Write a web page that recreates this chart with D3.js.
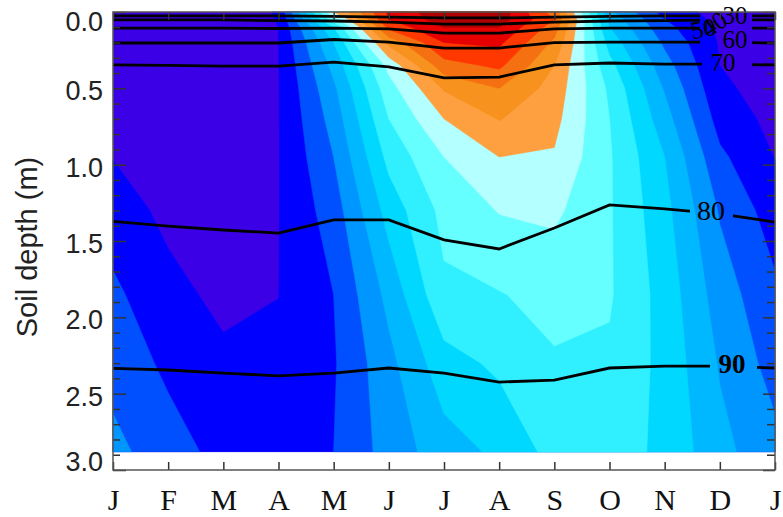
<!DOCTYPE html>
<html>
<head>
<meta charset="utf-8">
<script src="https://cdn.jsdelivr.net/npm/d3@7"></script>
<style>
  html, body { margin: 0; padding: 0; background: #fff; }
  svg { display: block; }
</style>
</head>
<body>
<div id="chart"></div>
<script>
// Month ticks (Jan repeated at the end)
const months = ['J', 'F', 'M', 'A', 'M', 'J', 'J', 'A', 'S', 'O', 'N', 'D', 'J']

// Depth of each row of the gridded field (m)
const depths = [0, 0.05, 0.1, 0.2, 0.35, 0.5, 0.7, 0.95, 1.3, 1.85, 2.3, 2.88]

// Colour band index, one row per depth, one value per month
const field = [
  [0.5, 0.3, 0.3, 1.1, 9.0, 13.2, 14.7, 14.6, 11.5, 4.2, 1.6, 0.6, 0.5],
  [0.5, 0.3, 0.3, 1.05, 7.5, 13.0, 14.5, 14.5, 12.0, 4.7, 2.0, 0.7, 0.5],
  [0.5, 0.3, 0.3, 1.0, 6.0, 12.3, 14.0, 14.0, 11.5, 5.0, 2.3, 0.8, 0.5],
  [0.5, 0.3, 0.3, 0.98, 5.0, 10.3, 13.0, 13.2, 10.8, 5.6, 2.8, 0.9, 0.5],
  [0.5, 0.3, 0.3, 0.97, 4.3, 8.3, 11.6, 12.2, 10.0, 6.3, 3.4, 1.0, 0.5],
  [0.55, 0.3, 0.3, 0.96, 3.8, 7.6, 10.1, 11.0, 9.6, 6.8, 3.9, 1.2, 0.55],
  [0.7, 0.35, 0.3, 0.96, 3.4, 7.0, 9.0, 10.05, 9.3, 7.0, 4.4, 1.6, 0.7],
  [0.97, 0.5, 0.35, 0.96, 3.0, 6.3, 8.0, 9.0, 8.9, 7.1, 5.0, 2.2, 0.97],
  [1.5, 0.75, 0.45, 0.97, 2.5, 5.4, 7.3, 8.05, 8.2, 7.1, 5.3, 2.9, 1.5],
  [2.2, 1.3, 0.75, 0.99, 2.0, 4.3, 6.8, 6.95, 7.3, 7.1, 5.6, 3.5, 2.2],
  [2.6, 1.8, 1.2, 1.15, 1.9, 3.7, 5.6, 6.2, 6.9, 6.85, 5.7, 3.9, 2.6],
  [3.3, 2.4, 1.7, 1.4, 2.0, 3.4, 4.55, 5.2, 6.35, 6.5, 5.76, 4.3, 3.3]
]

// Fill levels and their colours (one more colour than levels)
const levels = [1, 2, 3, 4, 5, 6, 7, 8, 9, 10, 11, 12, 13, 14]
const bandColors = ['#3c00e6', '#0000ff', '#0050ff', '#0096ff', '#00b8ff', '#00d8ff', '#30f0ff',
  '#66ffff', '#b4ffff', '#ffa040', '#f8921e', '#f57010', '#ff3800', '#e60000', '#b00000']

// Black contour lines: depth (m) of each line at each month tick
const lineLevels = ['30', '40', '50', '60', '70', '80', '90']
const line30 = [0.026, 0.026, 0.026, 0.026, 0.029, 0.033, 0.039, 0.039, 0.033, 0.029, 0.026, 0.026, 0.026]
const line40 = [0.052, 0.052, 0.052, 0.056, 0.059, 0.066, 0.079, 0.079, 0.066, 0.059, 0.056, 0.052, 0.052]
const line50 = [0.105, 0.105, 0.105, 0.108, 0.105, 0.111, 0.138, 0.138, 0.111, 0.105, 0.105, 0.105, 0.105]
const line60 = [0.203, 0.203, 0.203, 0.203, 0.180, 0.197, 0.236, 0.236, 0.200, 0.197, 0.197, 0.197, 0.203]
const line70 = [0.347, 0.350, 0.354, 0.354, 0.328, 0.360, 0.432, 0.426, 0.347, 0.334, 0.341, 0.341, 0.347]
const line80 = [1.372, 1.402, 1.428, 1.448, 1.362, 1.362, 1.493, 1.552, 1.415, 1.264, 1.290, 1.323, 1.376]
const line90 = [2.334, 2.345, 2.365, 2.384, 2.365, 2.332, 2.365, 2.424, 2.411, 2.332, 2.319, 2.320, 2.332]

const yTicks = [0, 0.5, 1, 1.5, 2, 2.5, 3]

const width = 783
const height = 517
const plot = { left: 113, right: 775, top: 12, bottom: 470 }

const x = d3.scaleLinear().domain([0, months.length - 1]).range([plot.left, plot.right])
const y = d3.scaleLinear().domain([0, 3]).range([plot.top, plot.bottom])

const svg = d3.select('#chart')
  .append('svg')
  .attr('width', width)
  .attr('height', height)

// Filled field
const nx = months.length
const ny = depths.length
const values = []
field.forEach(row => row.forEach(v => values.push(v)))
const rowDepth = d3.scaleLinear().domain(d3.range(ny)).range(depths)
const cx = v => Math.max(0, Math.min(nx - 1, v - 0.5))
const cy = v => Math.max(0, Math.min(ny - 1, v - 0.5))
const proj = d3.geoTransform({
  point(px, py) { this.stream.point(x(cx(px)), y(rowDepth(cy(py)))) }
})
const path = d3.geoPath(proj)
const bands = d3.contours().size([nx, ny]).thresholds(levels)(values)

const fill = svg.append('g').attr('class', 'fill')
fill.append('rect')
  .attr('x', x(0))
  .attr('y', y(0))
  .attr('width', x(nx - 1) - x(0))
  .attr('height', y(depths[ny - 1]) - y(0))
  .attr('fill', bandColors[0])
fill.selectAll('path')
  .data(bands)
  .join('path')
  .attr('d', path)
  .attr('fill', (d, i) => bandColors[i + 1])
  .attr('stroke', (d, i) => bandColors[i + 1])
  .attr('stroke-width', 0.6)

// Contour lines, each with a gap for its label
const lines = [line30, line40, line50, line60, line70, line80, line90]
const gaps = [[700, 752], [700, 752], [700, 752], [700, 752], [702, 752], [690, 733], [710, 757]]
const defs = svg.append('defs')
gaps.forEach((g, i) => {
  const cp = defs.append('clipPath').attr('id', 'gap' + i)
  cp.append('rect').attr('x', 0).attr('y', 0).attr('width', g[0]).attr('height', height)
  cp.append('rect').attr('x', g[1]).attr('y', 0).attr('width', width - g[1]).attr('height', height)
})
const lineGen = d3.line().x((d, i) => x(i)).y(d => y(d))
svg.append('g')
  .attr('class', 'isolines')
  .selectAll('path')
  .data(lines)
  .join('path')
  .attr('d', lineGen)
  .attr('clip-path', (d, i) => `url(#gap${i})`)
  .attr('fill', 'none')
  .attr('stroke', '#000')
  .attr('stroke-width', 2.8)

// Line labels
const labelPos = [
  { x: 735, y: 24, size: 25, rot: 0 },
  { x: 719, y: 31, size: 25, rot: -35 },
  { x: 705, y: 37, size: 25, rot: -12 },
  { x: 735, y: 48, size: 25, rot: 0 },
  { x: 723, y: 71, size: 25, rot: 0 },
  { x: 711, y: 220, size: 28, rot: 0 },
  { x: 732, y: 373, size: 27, rot: 0 }
]
svg.append('g')
  .attr('class', 'line-labels')
  .selectAll('text')
  .data(lineLevels)
  .join('text')
  .attr('transform', (d, i) => `translate(${labelPos[i].x},${labelPos[i].y}) rotate(${labelPos[i].rot})`)
  .attr('text-anchor', 'middle')
  .style('font-family', '"Liberation Serif", serif')
  .style('font-size', (d, i) => labelPos[i].size + 'px')
  .style('font-weight', (d, i) => i === 6 ? 'bold' : 'normal')
  .attr('fill', '#000')
  .text(d => d)

// Axes
const axisColor = '#333'
const style = g => {
  g.select('.domain').remove()
  g.selectAll('line').attr('stroke', axisColor).attr('stroke-width', 1.5)
}

svg.append('g')
  .attr('transform', `translate(0,${plot.bottom})`)
  .call(d3.axisBottom(x).tickValues(d3.range(nx)).tickFormat(i => months[i]).tickSize(-8))
  .call(style)
  .call(g => g.selectAll('text')
    .attr('y', 40).attr('dy', 0)
    .attr('fill', '#111')
    .style('font-family', '"Liberation Serif", serif')
    .style('font-size', '30px'))

svg.append('g')
  .attr('transform', `translate(0,${plot.top})`)
  .call(d3.axisTop(x).tickValues(d3.range(nx)).tickFormat('').tickSize(-8))
  .call(style)

const minorTicks = d3.range(1, 30).map(v => v / 10).filter(v => Math.abs(v * 2 - Math.round(v * 2)) > 1e-6)

svg.append('g')
  .attr('transform', `translate(${plot.left},0)`)
  .call(d3.axisLeft(y).tickValues(yTicks).tickFormat(d3.format('.1f')).tickSize(-13).tickPadding(10))
  .call(style)
  .call(g => g.selectAll('text')
    .attr('fill', '#222')
    .attr('dy', (d, i) => i === 0 ? '0.68em' : (i === yTicks.length - 1 ? '0.02em' : '0.42em'))
    .style('font-family', '"Liberation Sans", sans-serif')
    .style('font-size', '27px'))
svg.append('g')
  .attr('transform', `translate(${plot.left},0)`)
  .call(d3.axisLeft(y).tickValues(minorTicks).tickFormat('').tickSize(-7))
  .call(style)

svg.append('g')
  .attr('transform', `translate(${plot.right},0)`)
  .call(d3.axisRight(y).tickValues(yTicks).tickFormat('').tickSize(-12))
  .call(style)
svg.append('g')
  .attr('transform', `translate(${plot.right},0)`)
  .call(d3.axisRight(y).tickValues(minorTicks).tickFormat('').tickSize(-8))
  .call(style)

// Frame
svg.append('rect')
  .attr('x', plot.left)
  .attr('y', plot.top)
  .attr('width', plot.right - plot.left)
  .attr('height', plot.bottom - plot.top)
  .attr('fill', 'none')
  .attr('stroke', '#555')
  .attr('stroke-width', 1.5)

// Axis title
svg.append('text')
  .attr('transform', `translate(37,247) rotate(-90)`)
  .attr('text-anchor', 'middle')
  .attr('fill', '#222')
  .style('font-family', '"Liberation Sans", sans-serif')
  .style('font-size', '29px')
  .text('Soil depth (m)')
</script>
</body>
</html>
